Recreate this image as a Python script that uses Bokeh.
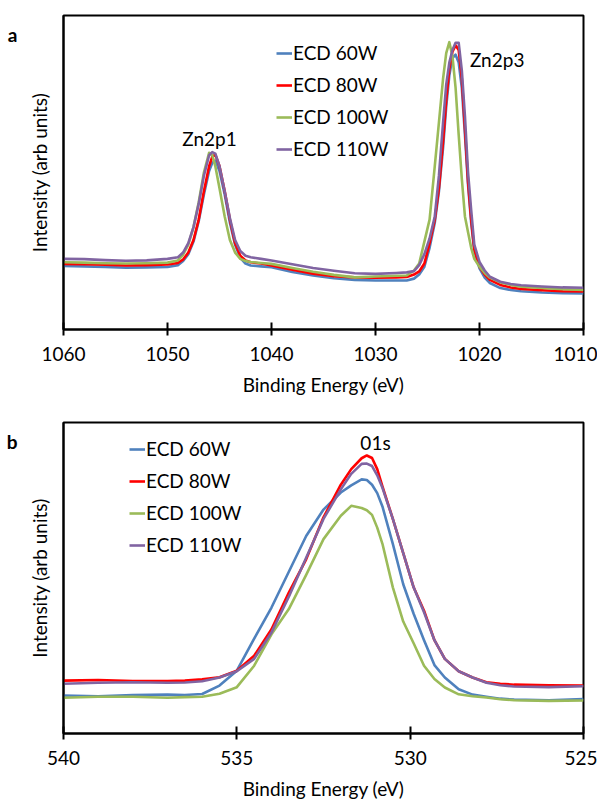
from bokeh.plotting import figure
from bokeh.models import Range1d, FixedTicker, Legend, LegendItem, Label, LinearAxis
from bokeh.layouts import column
from bokeh.embed import file_html
from bokeh.resources import INLINE

# ---------------- data: panel a (Zn 2p) ----------------
series_names = ["ECD 60W", "ECD 80W", "ECD 100W", "ECD 110W"]
series_colors = ["#4F81BD", "#FF0000", "#9BBB59", "#8064A2"]

x_zn = [1060, 1058, 1056, 1054, 1052, 1050, 1049, 1048.5, 1048, 1047.5, 1047, 1046.5,
        1046, 1045.7, 1045.4, 1045, 1044.5, 1044, 1043.5, 1043, 1042.5, 1042, 1041, 1040,
        1038, 1036, 1034, 1032, 1030, 1028, 1027, 1026.3, 1025.8, 1025.3, 1024.8, 1024.3,
        1023.9, 1023.5, 1023.2, 1022.9, 1022.6, 1022.3, 1022.0, 1021.7, 1021.4, 1021.1,
        1020.8, 1020.5, 1020.0, 1019.5, 1019, 1018, 1017, 1016, 1014, 1012, 1010]

zn_60 = [20.2, 20.1, 19.9, 19.7, 19.8, 19.9, 20.5, 21.8, 24.0, 28.0, 34.5, 43.0,
         50.5, 53.0, 53.8, 50.5, 43.0, 34.0, 27.0, 22.8, 21.0, 20.4, 20.1, 19.8,
         18.3, 17.2, 16.3, 15.8, 15.6, 15.6, 15.6, 16.2, 17.5, 20.0, 26.0, 34.0,
         44.0, 58.0, 71.0, 81.0, 86.5, 87.5, 85.0, 77.0, 62.0, 46.0,
         34.0, 25.0, 19.5, 16.5, 14.8, 13.2, 12.6, 12.2, 11.8, 11.6, 11.5]

zn_80 = [20.9, 20.8, 20.6, 20.4, 20.5, 20.7, 21.2, 22.3, 24.5, 28.5, 35.0, 44.0,
         52.0, 55.0, 55.7, 52.0, 44.0, 35.0, 27.5, 23.5, 22.0, 21.4, 21.0, 20.4,
         19.0, 17.8, 17.0, 16.6, 16.5, 16.6, 16.7, 17.5, 18.5, 21.0, 27.5, 35.0,
         45.0, 60.0, 73.0, 83.0, 88.5, 90.5, 89.0, 80.0, 64.0, 47.0,
         35.0, 25.5, 20.0, 17.5, 15.8, 14.2, 13.4, 12.9, 12.5, 12.2, 12.1]

zn_100 = [21.4, 21.3, 21.1, 21.0, 21.1, 21.3, 22.0, 23.8, 27.0, 32.6, 40.5, 50.0,
          56.3, 55.5, 52.0, 45.0, 36.0, 28.5, 24.5, 22.5, 21.8, 21.5, 21.2, 20.9,
          19.6, 18.4, 17.4, 16.6, 16.9, 17.1, 17.2, 18.8, 21.0, 28.0, 35.0, 52.0,
          66.0, 80.0, 88.0, 91.5, 87.0, 77.0, 62.0, 48.0, 36.0, 31.0,
          26.0, 22.5, 20.0, 18.0, 16.5, 15.0, 14.2, 13.6, 13.2, 12.8, 12.6]

zn_110 = [22.5, 22.4, 22.1, 21.9, 22.0, 22.5, 23.0, 24.5, 27.5, 32.6, 40.0, 49.0,
          55.5, 56.5, 56.0, 52.0, 44.0, 35.5, 28.5, 25.0, 23.5, 23.0, 22.5, 22.0,
          20.8, 19.6, 18.7, 17.9, 17.7, 18.0, 18.2, 18.6, 20.5, 24.0, 29.0, 36.0,
          49.0, 66.0, 78.0, 85.0, 89.0, 91.3, 91.3, 82.5, 68.0, 50.0,
          38.0, 27.0, 21.5, 18.8, 16.8, 15.2, 14.5, 14.1, 13.7, 13.4, 13.3]

zn_ticks = [1060, 1050, 1040, 1030, 1020, 1010]

# ---------------- data: panel b (O 1s) ----------------
x_o = [540, 539, 538, 537, 536.5, 536, 535.5, 535, 534.5, 534, 533.5, 533, 532.5,
       532, 531.7, 531.4, 531.25, 531.1, 530.95, 530.8, 530.5, 530.2, 529.9, 529.6,
       529.3, 529, 528.6, 528.2, 527.8, 527.4, 527, 526, 525]

o_60 = [12.2, 12.0, 12.4, 12.5, 12.4, 12.7, 15.4, 20.2, 30.5, 40.5, 52.0, 63.5, 72.0,
        77.5, 79.8, 81.7, 81.5, 80.0, 77.3, 73.0, 61.0, 48.0, 38.5, 30.0,
        22.0, 18.0, 14.2, 12.5, 11.8, 11.2, 10.9, 10.7, 11.1]

o_80 = [17.0, 17.2, 16.9, 16.9, 17.0, 17.4, 18.1, 20.2, 25.0, 33.5, 45.3, 56.0, 69.5,
        80.0, 85.0, 88.5, 89.4, 88.6, 85.0, 79.5, 69.0, 58.0, 47.0, 39.5,
        30.0, 24.0, 20.0, 18.0, 16.5, 16.0, 15.7, 15.5, 15.4]

o_100 = [11.5, 11.8, 11.8, 11.5, 11.7, 11.8, 12.8, 14.9, 21.8, 31.9, 40.0, 51.0, 62.5,
         70.0, 73.2, 72.5, 71.8, 70.3, 66.2, 61.0, 47.0, 36.0, 29.0, 21.8,
         17.5, 14.8, 12.6, 12.0, 11.6, 11.0, 10.7, 10.5, 10.6]

o_110 = [16.0, 16.3, 16.5, 16.3, 16.4, 16.8, 18.0, 20.0, 24.0, 32.5, 44.0, 56.5, 69.0,
         78.5, 83.5, 86.7, 86.8, 86.0, 83.0, 79.0, 69.0, 58.0, 47.0, 39.0,
         30.0, 24.0, 20.0, 18.0, 16.3, 15.5, 15.1, 14.9, 15.2]

o_ticks = [540, 535, 530, 525]

FONT = "Lato"
TXT = "black"
FS = "19px"


def make_panel(xs, ys_list, x_start, x_end, ticks, height, b_top, b_bottom,
               legend_loc, panel_letter, letter_y, peak_labels):
    p = figure(width=597, height=height, output_backend="svg", toolbar_location=None,
               x_range=Range1d(x_start, x_end), y_range=Range1d(0, 100),
               min_border_left=63, min_border_right=14,
               min_border_top=b_top, min_border_bottom=b_bottom)
    p.background_fill_color = "white"
    p.border_fill_color = "white"
    p.outline_line_color = "black"
    p.outline_line_width = 2
    p.xgrid.visible = False
    p.ygrid.visible = False

    items = []
    for name, col, ys in zip(series_names, series_colors, ys_list):
        r = p.line(xs, ys, line_color=col, line_width=2.6, line_join="round")
        items.append(LegendItem(label=name, renderers=[r]))

    xa = p.xaxis[0]
    xa.ticker = FixedTicker(ticks=ticks)
    xa.minor_tick_line_color = None
    xa.axis_line_width = 2
    xa.axis_line_color = "black"
    xa.major_tick_line_width = 2
    xa.major_tick_line_color = "black"
    xa.major_tick_in = 7
    xa.major_tick_out = 6
    xa.major_label_standoff = 11
    xa.major_label_text_font = FONT
    xa.major_label_text_font_size = FS
    xa.major_label_text_color = TXT
    xa.axis_label = "Binding Energy (eV)"
    xa.axis_label_text_font = FONT
    xa.axis_label_text_font_size = FS
    xa.axis_label_text_font_style = "normal"
    xa.axis_label_text_color = TXT
    xa.axis_label_standoff = 9

    ya = p.yaxis[0]
    ya.ticker = FixedTicker(ticks=[])
    ya.minor_tick_line_color = None
    ya.major_tick_line_color = None
    ya.major_label_text_font_size = "0px"
    ya.axis_line_width = 2
    ya.axis_line_color = "black"
    ya.axis_label = "Intensity (arb units)"
    ya.axis_label_text_font = FONT
    ya.axis_label_text_font_size = FS
    ya.axis_label_text_font_style = "normal"
    ya.axis_label_text_color = TXT
    ya.axis_label_standoff = 13

    # panel letter drawn as the single tick label of an outer, line-less left axis
    la = LinearAxis(ticker=FixedTicker(ticks=[letter_y]),
                    major_label_overrides={letter_y: panel_letter})
    la.axis_line_color = None
    la.major_tick_line_color = None
    la.minor_tick_line_color = None
    la.major_tick_in = 0
    la.major_tick_out = 0
    la.major_label_standoff = 7
    la.major_label_text_font = FONT
    la.major_label_text_font_size = FS
    la.major_label_text_font_style = "bold"
    la.major_label_text_color = TXT
    p.add_layout(la, "left")

    legend = Legend(items=items, location=legend_loc)
    legend.border_line_color = None
    legend.background_fill_alpha = 0
    legend.padding = 0
    legend.margin = 0
    legend.spacing = 9
    legend.glyph_width = 16
    legend.glyph_height = 20
    legend.label_height = 20
    legend.label_standoff = 1
    legend.label_text_font = FONT
    legend.label_text_font_size = FS
    legend.label_text_color = TXT
    p.add_layout(legend)

    for (lx, ly, txt) in peak_labels:
        p.add_layout(Label(x=lx, y=ly, text=txt, text_font=FONT, text_font_size=FS,
                           text_align="center", text_baseline="middle", text_color=TXT))
    return p


p1 = make_panel(x_zn, [zn_60, zn_80, zn_100, zn_110], 1060, 1010, zn_ticks,
                405, 15, 76, (213, 169), "a", 94,
                [(1045.96, 60.8, "Zn2p1"), (1018.3, 86.0, "Zn2p3")])
p2 = make_panel(x_o, [o_60, o_80, o_100, o_110], 540, 525, o_ticks,
                397, 17, 67, (66, 177), "b", 94,
                [(531.0, 93.7, "01s")])

layout = column(p1, p2, spacing=0)
open("out.html", "w").write(file_html(layout, INLINE))
